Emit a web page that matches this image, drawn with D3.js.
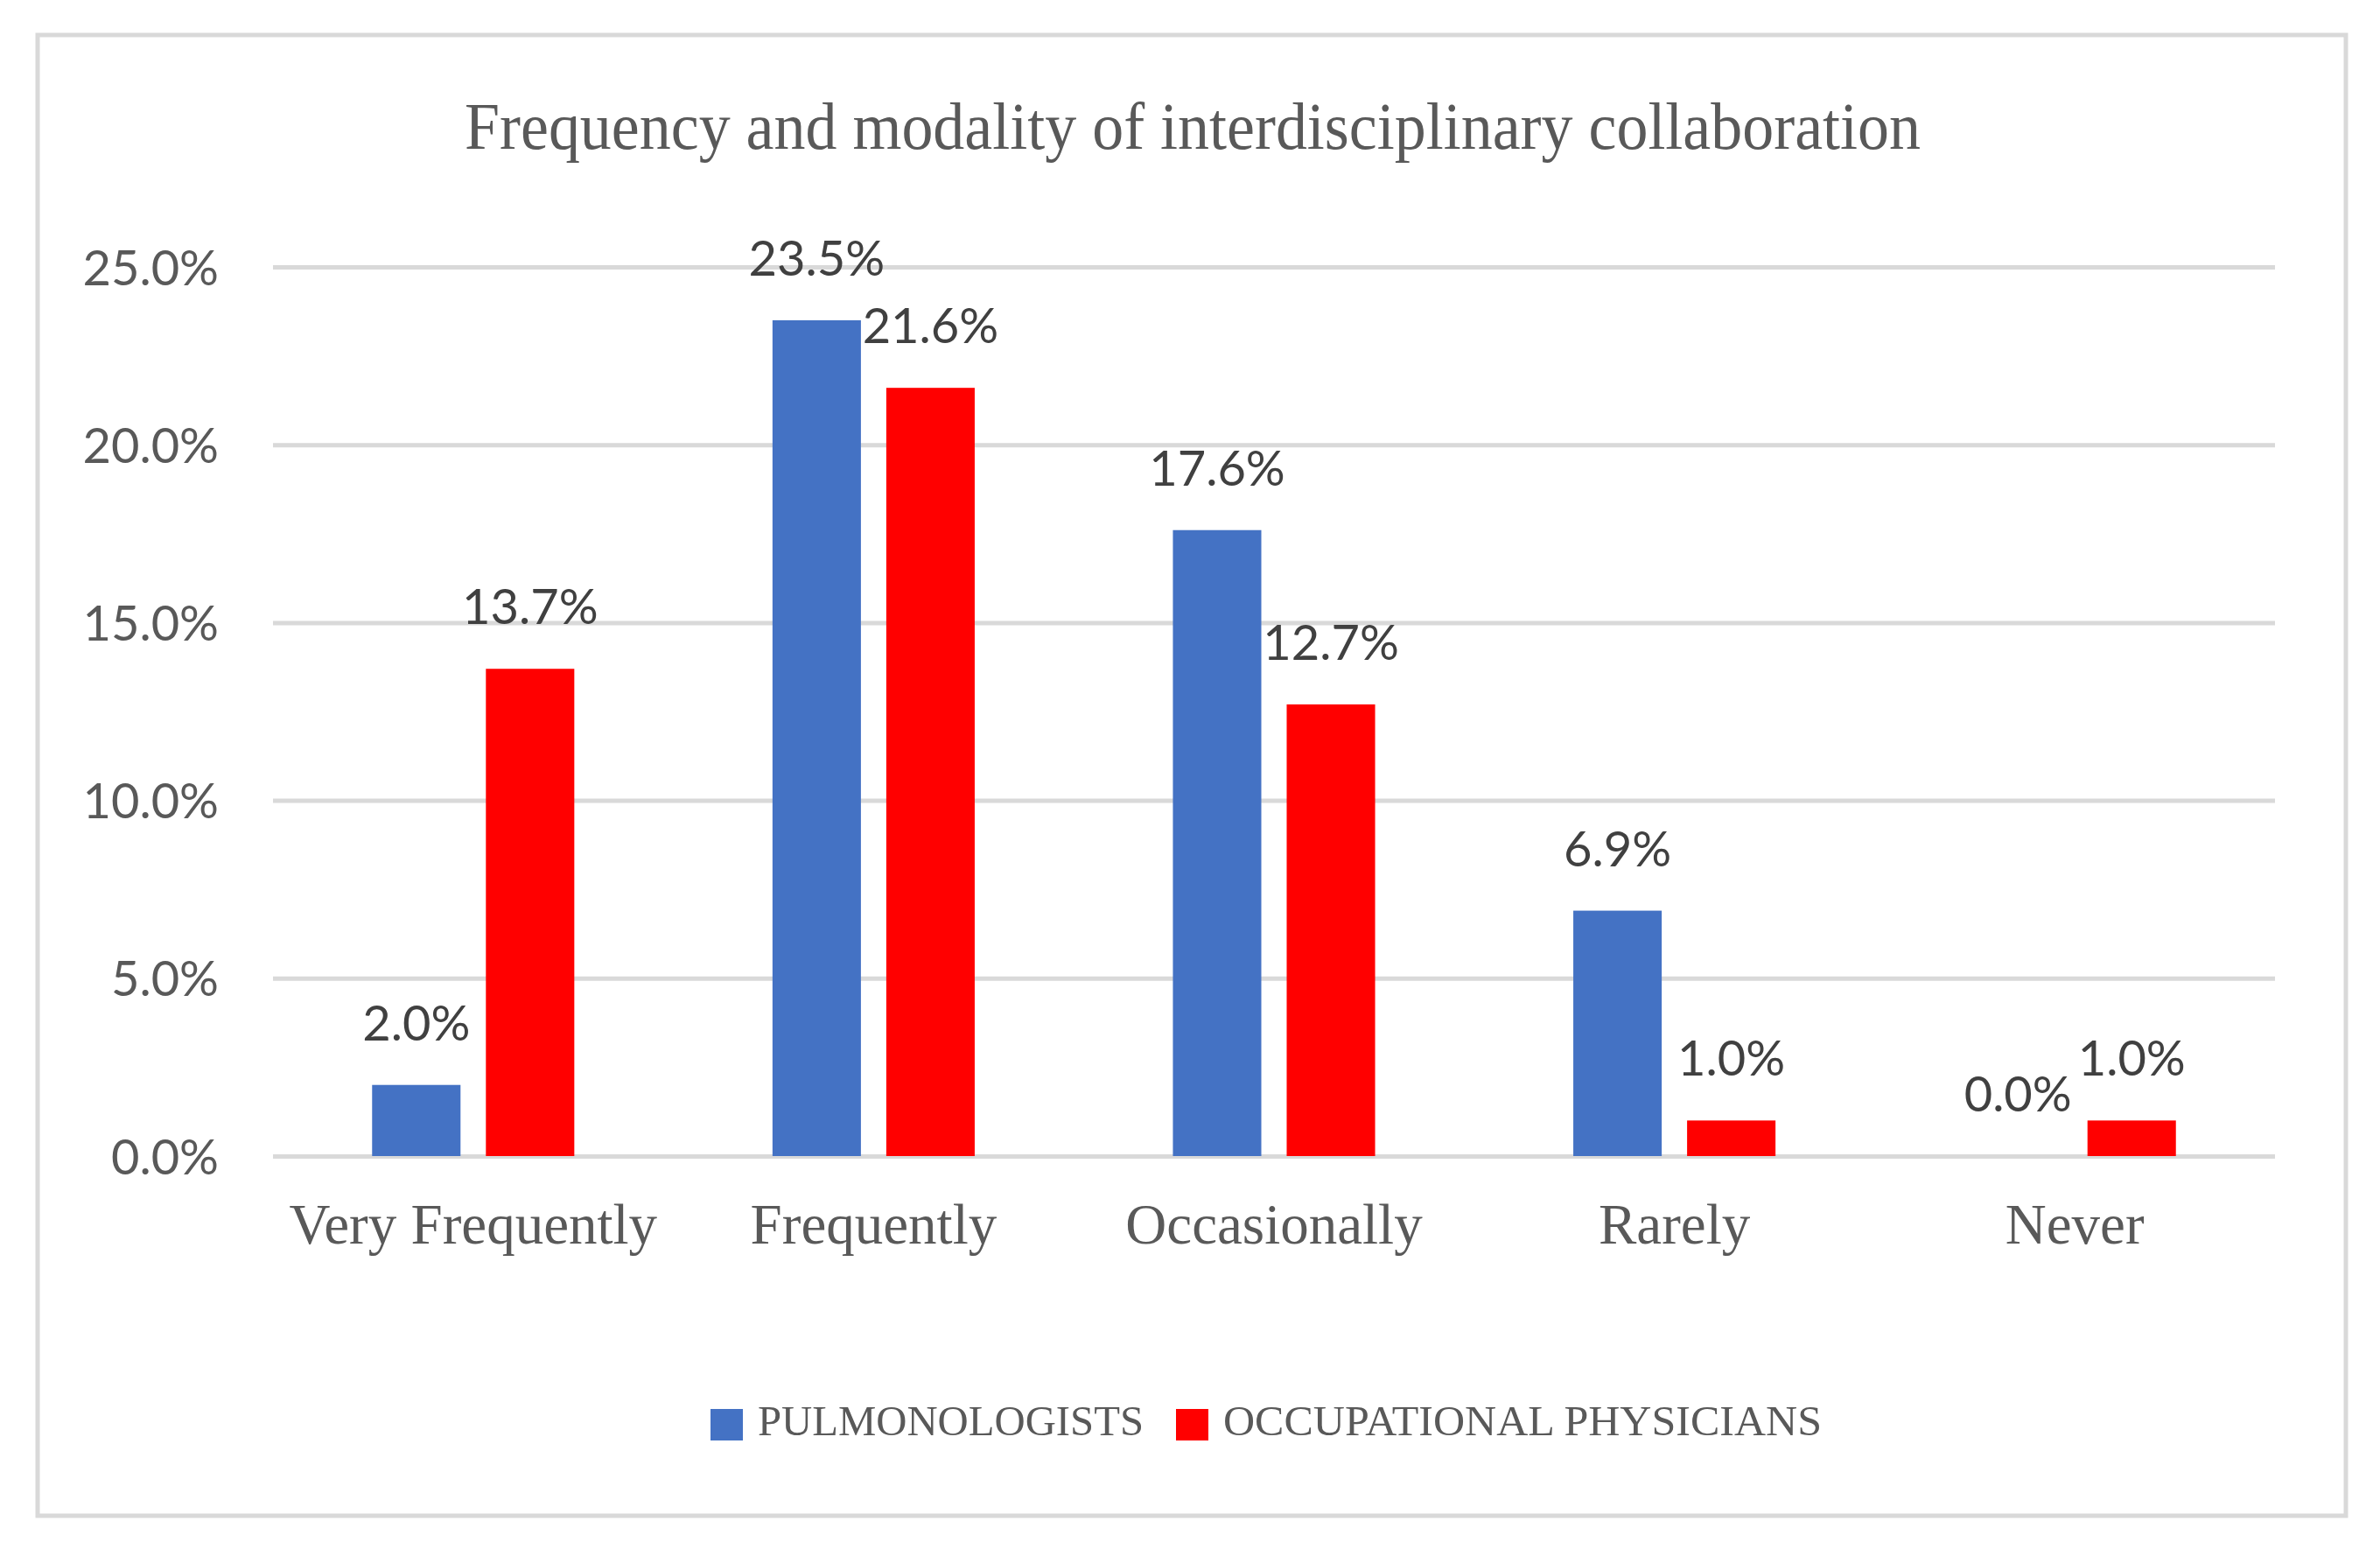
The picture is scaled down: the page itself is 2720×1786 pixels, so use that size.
<!DOCTYPE html>
<html>
<head>
<meta charset="utf-8">
<script src="https://cdn.jsdelivr.net/npm/d3@7"></script>
<style>
  html, body { margin: 0; padding: 0; background: #fff; }
  svg { display: block; }
</style>
</head>
<body>
<svg id="chart" width="2720" height="1786"></svg>
<script>
var categories = ['Very Frequently', 'Frequently', 'Occasionally', 'Rarely', 'Never'];
var seriesNames = ['PULMONOLOGISTS', 'OCCUPATIONAL PHYSICIANS'];
var pulmonologists = [2.0, 23.5, 17.6, 6.9, 0.0];
var occupational = [13.7, 21.6, 12.7, 1.0, 1.0];
var yTicks = [0, 5, 10, 15, 20, 25];
var titleText = 'Frequency and modality of interdisciplinary collaboration';

var colors = ['#4472C4', '#FF0000'];

var svg = d3.select('#chart'),
	margin = { top: 305, right: 120, bottom: 465, left: 312 },
	width = 2600 - margin.left,
	height = 1321 - margin.top;

// outer frame
svg.append('rect')
	.attr('x', 43).attr('y', 40)
	.attr('width', 2638).attr('height', 1692)
	.attr('fill', '#fff')
	.attr('stroke', '#d9d9d9')
	.attr('stroke-width', 5);

// title, squeezed to the width of the original condensed face
svg.append('text')
	.attr('x', 1363).attr('y', 170)
	.attr('text-anchor', 'middle')
	.attr('font-family', '"Liberation Serif", serif')
	.attr('font-size', 76)
	.attr('fill', '#595959')
	.attr('textLength', 1664)
	.attr('lengthAdjust', 'spacingAndGlyphs')
	.text(titleText);

var g = svg.append('g')
	.attr('transform', 'translate(' + margin.left + ',' + margin.top + ')');

var yScale = d3.scaleLinear()
	.domain([0, 25])
	.range([height, 0]);

var x0 = d3.scaleBand()
	.domain(categories)
	.range([0, width])
	.paddingInner(0.495)
	.paddingOuter(0.2475);

var x1 = d3.scaleBand()
	.domain(seriesNames)
	.range([0, x0.bandwidth()])
	.paddingInner(0.223);

// gridlines + y labels
var yAxis = d3.axisLeft(yScale)
	.tickValues(yTicks)
	.tickSize(-width)
	.tickPadding(62)
	.tickFormat(function(d) { return d.toFixed(1) + '%'; });

var yg = g.append('g').call(yAxis);
yg.select('.domain').remove();
yg.selectAll('.tick line')
	.attr('stroke', '#d9d9d9')
	.attr('stroke-width', 5);
yg.selectAll('.tick text')
	.attr('font-family', 'Lato, sans-serif')
	.attr('font-size', 56)
	.attr('fill', '#595959')
	.attr('dy', 20);

// category labels
var xAxis = d3.axisBottom(x0).tickSize(0).tickPadding(0);
var xg = g.append('g')
	.attr('transform', 'translate(0,' + height + ')')
	.call(xAxis);
xg.select('.domain').remove();
xg.selectAll('.tick text')
	.attr('y', 100)
	.attr('dy', 0)
	.attr('font-family', '"Liberation Serif", serif')
	.attr('font-size', 65)
	.attr('fill', '#595959');

// bars
var rows = categories.map(function(c, i) {
	return { cat: c, values: [pulmonologists[i], occupational[i]] };
});

var groups = g.selectAll('.group')
	.data(rows)
	.enter()
	.append('g')
	.attr('class', 'group')
	.attr('transform', function(d) { return 'translate(' + x0(d.cat) + ',0)'; });

groups.selectAll('rect')
	.data(function(d) { return d.values.map(function(v, j) { return { s: seriesNames[j], v: v, j: j }; }); })
	.enter()
	.append('rect')
	.attr('x', function(d) { return x1(d.s); })
	.attr('y', function(d) { return yScale(d.v); })
	.attr('width', x1.bandwidth())
	.attr('height', function(d) { return height - yScale(d.v); })
	.attr('fill', function(d) { return colors[d.j]; });

// data labels
groups.selectAll('.lbl')
	.data(function(d) { return d.values.map(function(v, j) { return { s: seriesNames[j], v: v }; }); })
	.enter()
	.append('text')
	.attr('class', 'lbl')
	.attr('x', function(d) { return x1(d.s) + x1.bandwidth() / 2; })
	.attr('y', function(d) { return yScale(d.v) - 51; })
	.attr('text-anchor', 'middle')
	.attr('font-family', 'Lato, sans-serif')
	.attr('font-size', 56)
	.attr('fill', '#404040')
	.text(function(d) { return d.v.toFixed(1) + '%'; });

// legend
var legendX = [812, 1344],
	legendW = [441, 684],
	legend = svg.append('g');

var items = legend.selectAll('g')
	.data(seriesNames)
	.enter()
	.append('g')
	.attr('transform', function(d, i) { return 'translate(' + legendX[i] + ',1610)'; });

items.append('rect')
	.attr('width', 37).attr('height', 36)
	.attr('fill', function(d, i) { return colors[i]; });

items.append('text')
	.attr('x', 54).attr('y', 30)
	.attr('font-family', '"Liberation Serif", serif')
	.attr('font-size', 48)
	.attr('fill', '#595959')
	.attr('textLength', function(d, i) { return legendW[i]; })
	.attr('lengthAdjust', 'spacingAndGlyphs')
	.text(function(d) { return d; });
</script>
</body>
</html>
